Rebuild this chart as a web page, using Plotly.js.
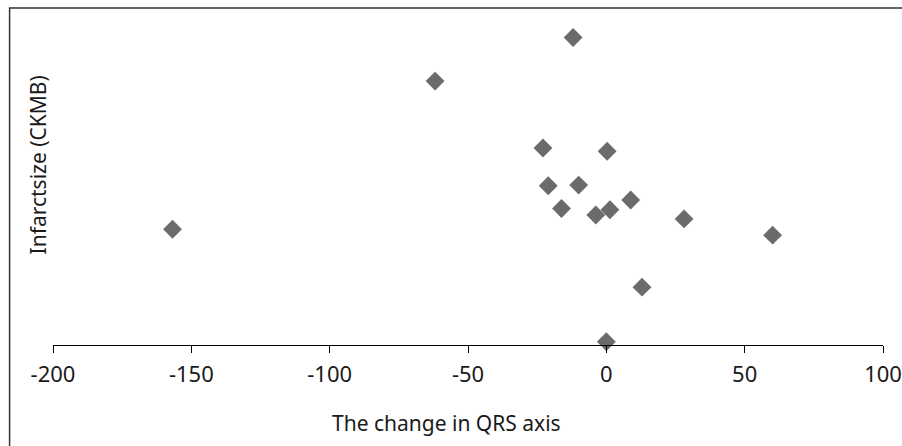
<!DOCTYPE html>
<html>
<head>
<meta charset="utf-8">
<script src="https://cdn.plot.ly/plotly-3.0.1.min.js"></script>
<style>html,body{margin:0;padding:0;background:#fff;}#chart{width:902px;height:446px;}</style>
</head>
<body>
<div id="chart"></div>
<script>
// QRS axis change (degrees) vs infarct size (CKMB)
const qrsChange = [-12.0, -61.9, -22.9, 0.3, -21.0, -10.0, -16.2, -3.8, 1.3, 8.8, 28.1, 12.9, -156.8, 60.1, 0.0];
const infarctSize = [473, 406, 303, 298, 245, 246, 210, 200, 208, 223, 194, 89, 178, 169, 5];
const xTicks = [-200, -150, -100, -50, 0, 50, 100];
const xTickLabels = ['-200', '-150', '-100', '-50', '0', '50', '100'];

const FONT = 'Noto Sans, Open Sans, sans-serif';

const trace = {
  x: qrsChange,
  y: infarctSize,
  type: 'scatter',
  mode: 'markers',
  marker: {symbol: 'diamond', size: 14.5, color: '#6b6b6e', line: {width: 0}},
  cliponaxis: false,
  hoverinfo: 'x+y'
};

const layout = {
  width: 902,
  height: 446,
  margin: {l: 52.5, r: 18.5, t: 20, b: 101},
  paper_bgcolor: '#ffffff',
  plot_bgcolor: '#ffffff',
  showlegend: false,
  font: {family: FONT, size: 18, color: '#1a1a1a'},
  xaxis: {
    range: [-200, 100],
    tickvals: xTicks,
    ticktext: xTickLabels,
    ticks: 'outside',
    ticklen: 7,
    tickwidth: 1,
    tickcolor: '#000',
    ticklabelstandoff: 3,
    showline: true,
    linecolor: '#000',
    linewidth: 1,
    showgrid: false,
    zeroline: false,
    tickfont: {family: FONT, size: 22, color: '#1a1a1a'},
    fixedrange: true
  },
  yaxis: {
    range: [0, 500],
    showline: false,
    showticklabels: false,
    ticks: '',
    showgrid: false,
    zeroline: false,
    fixedrange: true
  },
  shapes: [{
    type: 'rect', xref: 'paper', yref: 'paper',
    x0: -0.0523, x1: 1.2, y0: -0.5, y1: 1.0369,
    line: {color: '#333333', width: 1.5}, fillcolor: 'rgba(0,0,0,0)', layer: 'below'
  }],
  annotations: [
    {text: 'The change in QRS axis', xref: 'paper', yref: 'paper', x: 0.474, y: -0.24,
     xanchor: 'center', yanchor: 'middle', showarrow: false, font: {family: FONT, size: 21, color: '#1a1a1a'}},
    {text: 'Infarctsize (CKMB)', xref: 'paper', yref: 'paper', x: -0.0187, y: 0.554,
     xanchor: 'center', yanchor: 'middle', textangle: -90, showarrow: false, font: {family: FONT, size: 21, color: '#1a1a1a'}}
  ]
};

Plotly.newPlot('chart', [trace], layout, {displayModeBar: false, staticPlot: true});
</script>
</body>
</html>
